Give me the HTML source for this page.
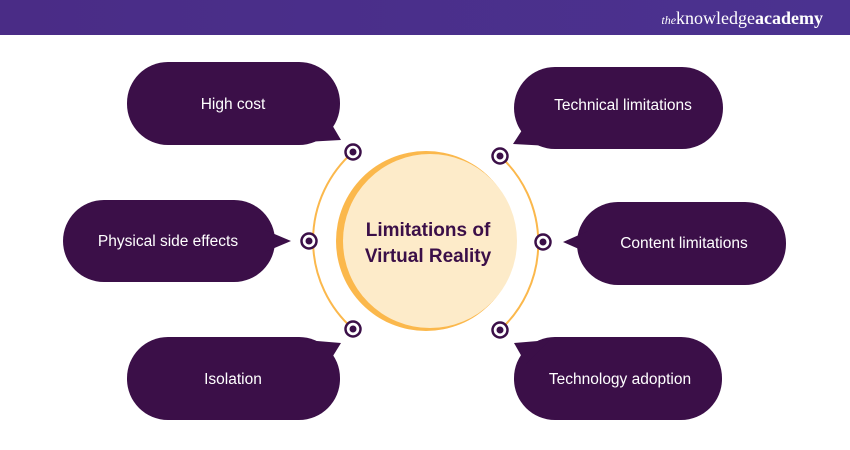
<!DOCTYPE html>
<html><head><meta charset="utf-8"><style>
html,body{margin:0;padding:0;width:850px;height:450px;overflow:hidden;background:#fff}
svg{display:block}
text{font-family:"Liberation Sans",sans-serif}
</style></head><body>
<svg width="850" height="450" viewBox="0 0 850 450">
<defs><linearGradient id="hd" x1="0" x2="1"><stop offset="0" stop-color="#4a2c86"/><stop offset="1" stop-color="#4b3290"/></linearGradient></defs>
<rect x="0" y="0" width="850" height="35" fill="url(#hd)"/>
<text x="823" y="24" text-anchor="end" fill="#fff" style="font-family:'Liberation Serif',serif" font-size="18"><tspan font-style="italic" font-size="12">the</tspan>knowledge<tspan font-weight="bold">academy</tspan></text>

<g fill="none" stroke="#fbb84c" stroke-width="2">
<path d="M353 152 A118 118 0 0 0 353 329"/>
<path d="M500 156 A118 118 0 0 1 500 330"/>
</g>
<circle cx="426" cy="241" r="90" fill="#fbb84c"/>
<circle cx="430" cy="241" r="87" fill="#fdebc9"/>
<text x="428" y="236" text-anchor="middle" fill="#3b0f48" font-size="19" font-weight="bold">Limitations of</text>
<text x="428" y="262" text-anchor="middle" fill="#3b0f48" font-size="19" font-weight="bold">Virtual Reality</text>

<g fill="#fff" stroke="#3b0f48" stroke-width="2.5">
<circle cx="353" cy="152" r="7.5"/><circle cx="309" cy="241" r="7.5"/><circle cx="353" cy="329" r="7.5"/>
<circle cx="500" cy="156" r="7.5"/><circle cx="543" cy="242" r="7.5"/><circle cx="500" cy="330" r="7.5"/>
</g>
<g fill="#3b0f48">
<circle cx="353" cy="152" r="3.5"/><circle cx="309" cy="241" r="3.5"/><circle cx="353" cy="329" r="3.5"/>
<circle cx="500" cy="156" r="3.5"/><circle cx="543" cy="242" r="3.5"/><circle cx="500" cy="330" r="3.5"/>

<rect x="127" y="62" width="213" height="83" rx="41"/>
<path d="M328 118 L341 140 L305 142 Z"/>
<rect x="514" y="67" width="209" height="82" rx="41"/>
<path d="M526 124 L513 144 L550 146 Z"/>
<rect x="63" y="200" width="212" height="82" rx="41"/>
<path d="M265 230 L291 241 L265 252 Z"/>
<rect x="577" y="202" width="209" height="83" rx="41"/>
<path d="M588 231 L563 242 L588 253 Z"/>
<rect x="127" y="337" width="213" height="83" rx="41"/>
<path d="M328 364 L341 343 L305 340 Z"/>
<rect x="514" y="337" width="208" height="83" rx="41"/>
<path d="M526 364 L514 343 L550 340 Z"/>
</g>
<g fill="#fff" font-size="15.5" text-anchor="middle">
<text x="233" y="109">High cost</text>
<text x="623" y="110">Technical limitations</text>
<text x="168" y="246">Physical side effects</text>
<text x="684" y="248">Content limitations</text>
<text x="233" y="384">Isolation</text>
<text x="620" y="384">Technology adoption</text>
</g>
</svg>
</body></html>
